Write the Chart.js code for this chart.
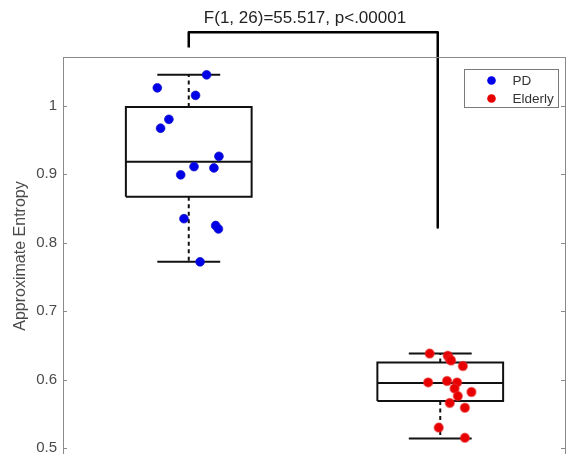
<!DOCTYPE html>
<html>
<head>
<meta charset="utf-8">
<script src="https://cdn.jsdelivr.net/npm/chart.js@4.4.1/dist/chart.umd.min.js"></script>
<style>
  html, body { margin: 0; padding: 0; background: #fff; overflow: hidden; }
  canvas { display: block; }
</style>
</head>
<body>
<canvas id="apenChart" width="567" height="470"></canvas>
<script>
// groups and per-subject values (x = jittered group position)
const groups = ['PD', 'Elderly'];
const groupPos = [1, 2];
const pdX = [1.071, 0.875, 1.027, 0.921, 0.888, 1.120, 1.021, 1.100, 0.968, 0.981, 1.107, 1.118, 1.045];
const pdY = [1.045, 1.026, 1.015, 0.980, 0.967, 0.926, 0.911, 0.909, 0.899, 0.835, 0.825, 0.820, 0.772];
const elderlyX = [1.958, 2.030, 2.038, 2.043, 2.090, 1.952, 2.027, 2.067, 2.057, 2.124, 2.070, 2.038, 2.098, 1.994, 2.098];
const elderlyY = [0.638, 0.635, 0.630, 0.628, 0.620, 0.596, 0.598, 0.596, 0.587, 0.582, 0.576, 0.566, 0.559, 0.530, 0.515];

// box plot statistics per group
const whiskerLow = [0.772, 0.514];
const boxQ1 = [0.867, 0.569];
const boxMedian = [0.918, 0.595];
const boxQ3 = [0.998, 0.625];
const whiskerHigh = [1.045, 0.638];

// significance bracket
const statText = 'F(1, 26)=55.517, p<.00001';
const bracketX = [1, 1.99];
const bracketLegEnd = [1.085, 0.822];
const bracketTop = 1.107;

const yTicks = [0.5, 0.6, 0.7, 0.8, 0.9, 1];

const BOX_HALF = 0.25;
const CAP_HALF = 0.125;
const FONT = '"Liberation Sans", Arial, sans-serif';

const toPoints = (xs, ys) => xs.map((x, i) => ({ x: x, y: ys[i] }));

// solid parts: box outline, median, caps (null breaks the line)
const boxPts = [];
const whiskPts = [];
groupPos.forEach((c, i) => {
    const l = c - BOX_HALF, r = c + BOX_HALF;
    boxPts.push({ x: l, y: boxQ1[i] }, { x: r, y: boxQ1[i] }, { x: r, y: boxQ3[i] },
                { x: l, y: boxQ3[i] }, { x: l, y: boxQ1[i] }, { x: l, y: null });
    boxPts.push({ x: l, y: boxMedian[i] }, { x: r, y: boxMedian[i] }, { x: r, y: null });
    boxPts.push({ x: c - CAP_HALF, y: whiskerHigh[i] }, { x: c + CAP_HALF, y: whiskerHigh[i] }, { x: c, y: null });
    boxPts.push({ x: c - CAP_HALF, y: whiskerLow[i] }, { x: c + CAP_HALF, y: whiskerLow[i] }, { x: c, y: null });
    whiskPts.push({ x: c, y: boxQ3[i] }, { x: c, y: whiskerHigh[i] }, { x: c, y: null });
    whiskPts.push({ x: c, y: boxQ1[i] }, { x: c, y: whiskerLow[i] }, { x: c, y: null });
});

const bracketPts = [
    { x: bracketX[0], y: bracketLegEnd[0] },
    { x: bracketX[0], y: bracketTop },
    { x: bracketX[1], y: bracketTop },
    { x: bracketX[1], y: bracketLegEnd[1] }
];

// MATLAB style frame with inward ticks, legend and title text
const matlabDecor = {
    id: 'matlabDecor',
    afterDatasetsDraw(chart) {
        const { ctx, chartArea: a, scales } = chart;
        ctx.save();
        ctx.strokeStyle = '#8a8a8a';
        ctx.lineWidth = 1;
        ctx.strokeRect(Math.round(a.left) + 0.5, Math.round(a.top) + 0.5,
                       Math.round(a.right - a.left) - 1, Math.round(a.bottom - a.top));
        ctx.beginPath();
        yTicks.forEach(v => {
            const y = Math.round(scales.y.getPixelForValue(v)) + 0.5;
            ctx.moveTo(a.left, y); ctx.lineTo(a.left + 4, y);
            ctx.moveTo(a.right - 1, y); ctx.lineTo(a.right - 5, y);
        });
        ctx.stroke();

        // legend box
        const lx = 464.5, ly = 69.5, lw = 94, lh = 38;
        ctx.fillStyle = '#fff';
        ctx.fillRect(lx, ly, lw, lh);
        ctx.strokeStyle = '#7a7a7a';
        ctx.strokeRect(lx, ly, lw, lh);
        ctx.font = '13.5px ' + FONT;
        ctx.textBaseline = 'middle';
        ctx.textAlign = 'left';
        [0, 1].forEach(i => {
            const ds = chart.data.datasets[i];
            const y = ly + 11 + i * 18;
            ctx.beginPath();
            ctx.fillStyle = ds.backgroundColor;
            ctx.arc(lx + 27, y, 4.3, 0, Math.PI * 2);
            ctx.fill();
            ctx.fillStyle = '#333';
            ctx.fillText(ds.label, lx + 48, y + 0.5);
        });

        // statistic above bracket
        ctx.font = '17px ' + FONT;
        ctx.fillStyle = '#222';
        ctx.textAlign = 'center';
        ctx.textBaseline = 'alphabetic';
        ctx.fillText(statText, 305, 23);
        ctx.restore();
    }
};

const ctx = document.getElementById('apenChart').getContext('2d');

const config = {
    type: 'scatter',
    data: {
        datasets: [{
            label: groups[0],
            data: toPoints(pdX, pdY),
            backgroundColor: 'rgb(0,0,232)',
            borderColor: 'rgba(20,20,200,0.7)',
            borderWidth: 1,
            pointRadius: 4.4,
            order: 0
        }, {
            label: groups[1],
            data: toPoints(elderlyX, elderlyY),
            backgroundColor: 'rgb(232,0,0)',
            borderColor: 'rgba(232,40,40,0.55)',
            borderWidth: 1.5,
            pointRadius: 4.5,
            order: 0
        }, {
            label: 'box',
            data: boxPts,
            showLine: true,
            borderColor: '#111',
            borderWidth: 2,
            pointRadius: 0,
            spanGaps: false,
            order: 1
        }, {
            label: 'whisker',
            data: whiskPts,
            showLine: true,
            borderColor: '#111',
            borderWidth: 2,
            borderDash: [4, 3.5],
            pointRadius: 0,
            spanGaps: false,
            order: 1
        }, {
            label: 'bracket',
            data: bracketPts,
            showLine: true,
            borderColor: '#000',
            borderWidth: 2.5,
            borderJoinStyle: 'round',
            pointRadius: 0,
            clip: false,
            order: 1
        }]
    },
    options: {
        responsive: false,
        animation: false,
        layout: { autoPadding: false, padding: { top: 57, right: 1, bottom: 15, left: 0 } },
        plugins: {
            legend: { display: false },
            tooltip: { enabled: false }
        },
        scales: {
            x: {
                type: 'linear',
                min: 0.5,
                max: 2.5,
                display: false
            },
            y: {
                min: 0.49,
                max: 1.071,
                afterFit: s => { s.width = 63; },
                afterBuildTicks: s => { s.ticks = yTicks.map(v => ({ value: v })); },
                grid: { display: false, drawTicks: false },
                border: { display: false },
                ticks: {
                    padding: 6,
                    color: '#4a4a4a',
                    font: { family: FONT, size: 15 },
                    callback: v => String(+v.toFixed(1))
                },
                title: {
                    display: true,
                    text: 'Approximate Entropy',
                    color: '#4a4a4a',
                    font: { family: FONT, size: 16 },
                    padding: { top: 11, bottom: 0 }
                }
            }
        }
    },
    plugins: [matlabDecor]
};

const apenChart = new Chart(ctx, config);
</script>
</body>
</html>
